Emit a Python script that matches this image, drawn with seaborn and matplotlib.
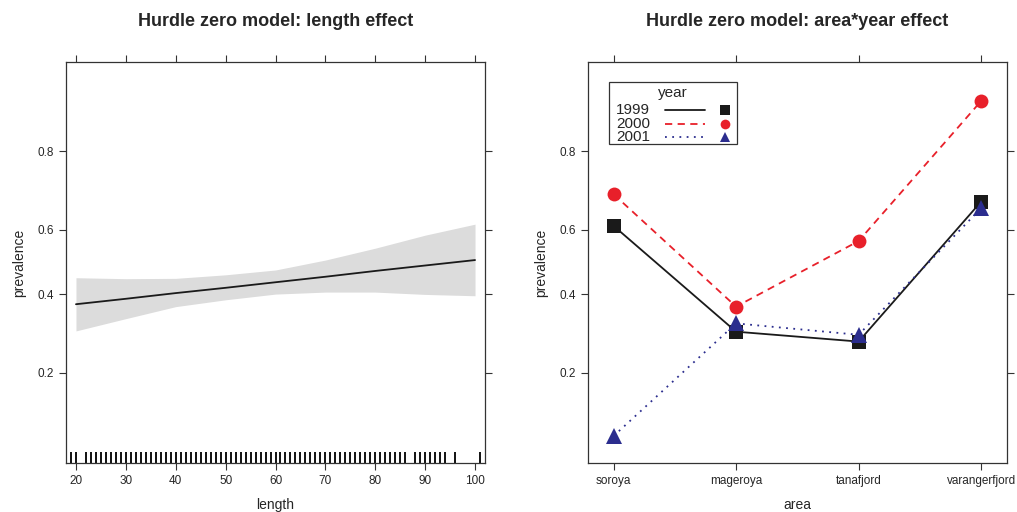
import numpy as np
import pandas as pd
import seaborn as sns
import matplotlib.pyplot as plt
from matplotlib.ticker import NullLocator, FixedLocator, FormatStrFormatter

sns.set_style("white")
plt.rcParams['font.family'] = ['Liberation Sans', 'DejaVu Sans']

# left panel: length effect (fit and band)
length = [20, 30, 40, 50, 60, 70, 80, 90, 100]
fit = [0.371, 0.387, 0.404, 0.420, 0.437, 0.454, 0.472, 0.489, 0.506]
upper = [0.451, 0.448, 0.449, 0.460, 0.475, 0.506, 0.543, 0.583, 0.616]
lower = [0.297, 0.330, 0.364, 0.384, 0.401, 0.407, 0.407, 0.400, 0.396]

# observed lengths for the rug
rug_lengths = [18, 19, 20, 22, 23, 24, 25, 26, 27, 28, 29, 30, 31, 32, 33, 34,
               35, 36, 37, 38, 39, 40, 41, 42, 43, 44, 45, 46, 47, 48, 49, 50,
               51, 52, 53, 54, 55, 56, 57, 58, 59, 60, 61, 62, 63, 64, 65, 66,
               67, 68, 69, 70, 71, 72, 73, 74, 75, 76, 77, 78, 79, 80, 81, 82,
               83, 84, 85, 86, 88, 89, 90, 91, 92, 93, 94, 96, 101]

# right panel: area*year effect
areas = ['soroya', 'mageroya', 'tanafjord', 'varangerfjord']
years = ['1999', '2000', '2001']
prev_1999 = [0.611, 0.295, 0.270, 0.680]
prev_2000 = [0.700, 0.364, 0.565, 0.882]
prev_2001 = [0.102, 0.317, 0.287, 0.662]

colors = {'1999': '#1a1a1a', '2000': '#e8202a', '2001': '#2b2d8e'}
markers = {'1999': 's', '2000': 'o', '2001': '^'}
dashes = {'1999': '-', '2000': (0, (4, 3)), '2001': (0, (1, 3))}
msizes = {'1999': 10.5, '2000': 10, '2001': 12}

TXT = '#262626'


def lattice_axes(ax):
    for s in ax.spines.values():
        s.set_color('#333333')
        s.set_linewidth(0.9)
    ax.set_yscale('logit')
    ax.yaxis.set_major_locator(FixedLocator([0.2, 0.4, 0.6, 0.8]))
    ax.yaxis.set_major_formatter(FormatStrFormatter('%.1f'))
    ax.yaxis.set_minor_locator(NullLocator())
    ax.set_ylim(0.075, 0.924)
    ax.tick_params(axis='both', which='major', direction='out', length=5,
                   width=0.8, color='#333333', labelsize=8.5, labelcolor=TXT,
                   top=True, right=True, labeltop=False, labelright=False,
                   bottom=True, left=True)
    ax.set_ylabel('prevalence', fontsize=10, color=TXT, labelpad=8)


fig = plt.figure(figsize=(10.17, 5.12), dpi=100)
ax1 = fig.add_axes([0.0649, 0.0957, 0.412, 0.783])
ax2 = fig.add_axes([0.578, 0.0957, 0.412, 0.783])

# left panel
lattice_axes(ax1)
ax1.fill_between(length, lower, upper, color='#dcdcdc', linewidth=0)
sns.lineplot(x=length, y=fit, ax=ax1, color='#1a1a1a', linewidth=1.3)
sns.rugplot(x=rug_lengths, ax=ax1, height=0.027, color='#111111', linewidth=1.4)
ax1.set_xlim(18, 102)
ax1.set_xticks([20, 30, 40, 50, 60, 70, 80, 90, 100])
ax1.xaxis.set_minor_locator(NullLocator())
ax1.set_xlabel('length', fontsize=10, color=TXT, labelpad=8)
ax1.set_title('Hurdle zero model: length effect', fontsize=13,
              fontweight='bold', color=TXT, pad=26)

# right panel
lattice_axes(ax2)
df = pd.DataFrame({
    'area': areas * 3,
    'pos': list(range(len(areas))) * 3,
    'year': [y for y in years for _ in areas],
    'prevalence': prev_1999 + prev_2000 + prev_2001,
})
for yr in years:
    d = df[df['year'] == yr]
    sns.lineplot(data=d, x='pos', y='prevalence', ax=ax2, color=colors[yr],
                 linestyle=dashes[yr], linewidth=1.3, marker=markers[yr],
                 markersize=msizes[yr], markeredgewidth=0,
                 markerfacecolor=colors[yr])
ax2.set_xlim(-0.21, 3.21)
ax2.set_xticks(range(len(areas)))
ax2.set_xticklabels(areas)
ax2.xaxis.set_minor_locator(NullLocator())
ax2.set_xlabel('area', fontsize=10, color=TXT, labelpad=8)
ax2.set_title('Hurdle zero model: area*year effect', fontsize=13,
              fontweight='bold', color=TXT, pad=26)

# lattice-style key: label, line sample, then symbol
tr = ax2.transAxes
ax2.add_patch(plt.Rectangle((0.050, 0.796), 0.306, 0.154, transform=tr,
                            fill=True, facecolor='white', edgecolor='#333333',
                            linewidth=0.9, zorder=5))
ax2.text(0.203, 0.924, 'year', transform=tr, ha='center', va='center',
         fontsize=11, color=TXT, zorder=6)
for i, yr in enumerate(years):
    yy = 0.880 - i * 0.034
    ax2.text(0.068, yy, yr, transform=tr, ha='left', va='center',
             fontsize=11, color=TXT, zorder=6)
    ax2.plot([0.183, 0.280], [yy, yy], transform=tr, color=colors[yr],
             linestyle=dashes[yr], linewidth=1.3, zorder=6)
    ax2.plot([0.328], [yy], transform=tr, color=colors[yr],
             marker=markers[yr], markersize=7, markeredgewidth=0, zorder=6)

fig.savefig('out.png', dpi=100)
